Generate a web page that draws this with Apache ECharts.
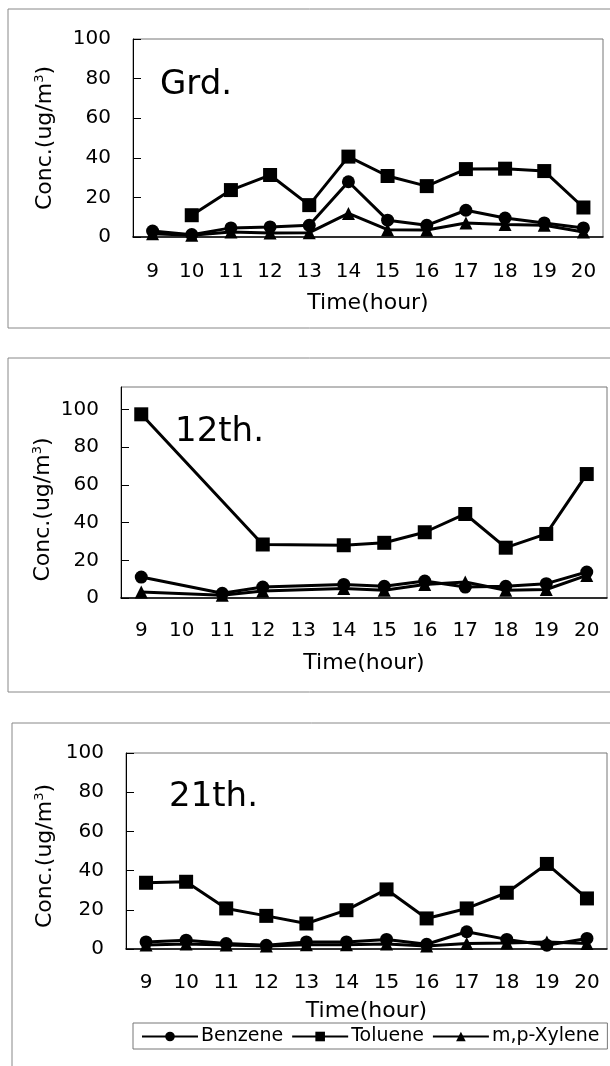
<!DOCTYPE html>
<html><head><meta charset="utf-8">
<script src="https://cdn.jsdelivr.net/npm/echarts@6/dist/echarts.min.js"></script>
<style>html,body{margin:0;padding:0;background:#fff}#c{width:610px;height:1066px}</style>
</head><body><div id="c"></div>
<script>
const hours = ['9','10','11','12','13','14','15','16','17','18','19','20'];
const yTicks = [0, 20, 40, 60, 80, 100];
const panelTitles = ['Grd.', '12th.', '21th.'];
const seriesNames = ['Benzene', 'Toluene', 'm,p-Xylene'];

const grdBenzene = [3.0, 1.2, 4.6, 5.1, 5.9, 27.9, 8.5, 5.9, 13.5, 9.6, 7.1, 4.6];
const grdToluene = [null, 11.0, 23.7, 31.3, 16.1, 40.6, 30.8, 25.7, 34.3, 34.5, 33.3, 14.9];
const grdXylene  = [1.7, 0.9, 2.5, 2.0, 2.2, 11.9, 3.7, 3.5, 7.1, 6.3, 5.9, 2.5];

const t12Benzene = [11.1, null, 2.5, 5.8, null, 7.2, 6.2, 9.0, 5.8, 6.2, 7.6, 13.8];
const t12Toluene = [97.5, null, null, 28.4, null, 28.0, 29.3, 34.9, 44.6, 26.7, 34.0, 65.8];
const t12Xylene  = [3.2, null, 1.5, 3.7, null, 5.0, 4.1, 7.2, 8.5, 4.1, 4.5, 12.0];

const t21Benzene = [3.6, 4.5, 2.8, 1.9, 3.6, 3.6, 4.9, 2.4, 8.8, 4.9, 1.9, 5.4];
const t21Toluene = [33.8, 34.3, 20.7, 16.9, 13.0, 19.8, 30.4, 15.6, 20.7, 28.7, 43.4, 25.8];
const t21Xylene  = [2.0, 2.5, 2.0, 1.5, 2.2, 2.2, 2.6, 1.5, 2.8, 3.0, 3.6, 2.8];

const panelData = [
  [grdBenzene, grdToluene, grdXylene],
  [t12Benzene, t12Toluene, t12Xylene],
  [t21Benzene, t21Toluene, t21Xylene]
];

const FONT = 'DejaVu Sans';
const grids = [
  {left: 133, top: 39, width: 470, height: 198},
  {left: 121, top: 387, width: 486, height: 211},
  {left: 126, top: 753, width: 481, height: 196}
];
const yMax = [100, 112, 100];
const yNameGap = [76, 66, 69];
const yNamePad = [[0,0,0,0], [0,34,0,0], [0,10,0,0]];
const xNameGap = [55, 54, 51];
const xLabelMargin = [25, 23, 24];
const symbols = ['circle', 'rect', 'triangle'];
const symSizes = [13, 14, 13];

const chart = echarts.init(document.getElementById('c'), null, {renderer: 'canvas'});

const xAxes = [], yAxes = [], series = [], titles = [];
grids.forEach((g, i) => {
  xAxes.push({
    type: 'category', gridIndex: i, data: hours, boundaryGap: true,
    name: 'Time(hour)', nameLocation: 'middle', nameGap: xNameGap[i], nameMoveOverlap: false,
    nameTextStyle: {fontFamily: FONT, fontSize: 22, color: '#000'},
    axisLine: {lineStyle: {color: '#000', width: 1.5}},
    axisTick: {inside: false, length: 7, lineStyle: {color: '#000'}},
    axisLabel: {margin: xLabelMargin[i], fontFamily: FONT, fontSize: 20, color: '#000'}
  });
  yAxes.push({
    type: 'value', gridIndex: i, min: 0, max: yMax[i], interval: 20,
    name: 'Conc.(ug/m{sup|3})', nameLocation: 'middle', nameGap: yNameGap[i], nameRotate: 90, nameMoveOverlap: false,
    nameTextStyle: {fontFamily: FONT, fontSize: 22, color: '#000', padding: yNamePad[i],
      rich: {sup: {fontFamily: FONT, fontSize: 13, color: '#000', verticalAlign: 'top', padding: [0,0,11,0]}}},
    axisLine: {show: true, lineStyle: {color: '#000', width: 1}},
    axisTick: {show: true, inside: true, length: 8, lineStyle: {color: '#000'}},
    splitLine: {show: false},
    axisLabel: {margin: 22, fontFamily: FONT, fontSize: 20, color: '#000', showMaxLabel: yMax[i] === 100,
      formatter: v => (yTicks.indexOf(v) >= 0 ? String(v) : '')}
  });
  panelData[i].forEach((arr, k) => {
    series.push({
      name: seriesNames[k], type: 'line', xAxisIndex: i, yAxisIndex: i,
      data: arr, connectNulls: true,
      symbol: symbols[k], symbolSize: symSizes[k],
      lineStyle: {color: '#000', width: 3},
      itemStyle: {color: '#000'},
      z: 3 - k + 2
    });
  });
  titles.push({
    text: panelTitles[i], left: [155, 170, 164][i], top: [63, 410, 775][i],
    textStyle: {fontFamily: FONT, fontSize: 34, fontWeight: 'normal', color: '#000'}
  });
});

const option = {
  animation: false,
  backgroundColor: '#fff',
  title: titles,
  grid: grids.map(g => Object.assign({show: true, borderColor: '#777', borderWidth: 1, containLabel: false}, g)),
  xAxis: xAxes,
  yAxis: yAxes,
  legend: {
    data: seriesNames, left: 133, top: 1023, orient: 'horizontal',
    itemWidth: 56, itemHeight: 12, itemGap: 8, padding: [4, 8, 3, 8],
    borderColor: '#777', borderWidth: 1,
    textStyle: {fontFamily: FONT, fontSize: 19, color: '#000', padding: [0, 0, 0, -2]}
  },
  graphic: [
    {type: 'rect', shape: {x: 8, y: 9, width: 620, height: 319}, style: {fill: 'none', stroke: '#888', lineWidth: 1}, silent: true},
    {type: 'rect', shape: {x: 8, y: 358, width: 620, height: 334}, style: {fill: 'none', stroke: '#888', lineWidth: 1}, silent: true},
    {type: 'rect', shape: {x: 12, y: 723, width: 620, height: 360}, style: {fill: 'none', stroke: '#888', lineWidth: 1}, silent: true}
  ],
  series: series
};
chart.setOption(option);
</script>
</body></html>
